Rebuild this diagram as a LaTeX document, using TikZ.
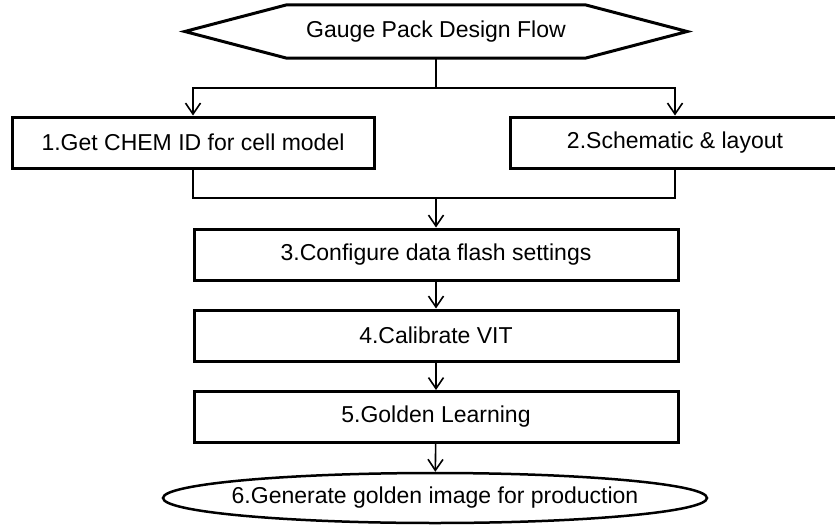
\documentclass[tikz,border=0pt]{standalone}
\usepackage{fontspec}
\setmainfont{Liberation Sans}
\usetikzlibrary{calc,arrows.meta,shapes.geometric}

\tikzset{
	stepbox/.style={draw, line width=3pt, rectangle, minimum height=51pt, inner sep=0pt, font=\fontsize{23}{28}\selectfont},
	link/.style={line width=1.6pt},
	linkarrow/.style={line width=1.6pt, -{Straight Barb[length=11pt, width=15pt, line width=1.6pt]}}
}

\begin{document}
\begin{tikzpicture}[x=1pt, y=-1pt]
			%%%%% START %%%%%
			\useasboundingbox (0, 0) rectangle (835, 527);
			
			% title hexagon
			\node[rectangle, minimum width=298pt, minimum height=53pt, inner sep=0pt, font=\fontsize{23}{28}\selectfont] (title) at (436, 31.5) {Gauge Pack Design Flow};
			\draw[line width=3pt, line join=miter] (title.north west) -- (title.north east) -- ($(title.east)+(102, 0)$) -- (title.south east) -- (title.south west) -- ($(title.west)+(-102, 0)$) -- cycle;
			
			\node[stepbox, minimum width=362pt] (chem) at (193, 142.5) {1.Get CHEM ID for cell model};
			\node[stepbox, minimum width=330pt] (layout) at (675, 142.5) {2.Schematic \& layout};
			
			\node[stepbox, minimum width=484pt] (flash) at (436, 254.5) {3.Configure data flash settings};
			\node[stepbox, minimum width=484pt] (vit) at (436, 335.5) {4.Calibrate VIT};
			\node[stepbox, minimum width=484pt] (golden) at (436, 417) {5.Golden Learning};
			
			\node[ellipse, draw, line width=2.5pt, minimum width=544pt, minimum height=50pt, inner xsep=-30pt, inner ysep=0pt, font=\fontsize{23}{28}\selectfont] (image) at (435, 498) {6.Generate golden image for production};
			
			% split and join
			\coordinate (split) at (436, 88);
			\coordinate (join) at (436, 198);
			
			\draw[line width=2pt] (title.south) -- (split);
			\draw[linkarrow] (split) -| (chem.north);
			\draw[linkarrow] (split) -| (layout.north);
			
			\draw[link] (chem.south) |- (join) -| (layout.south);
			\draw[linkarrow, line width=2pt] (join) -- (flash.north);
			
			\draw[linkarrow] (flash) -- (vit);
			\draw[linkarrow] (vit) -- (golden);
			\draw[linkarrow] (golden) -- (image);
			
			%%%%% END %%%%%
		\end{tikzpicture}
\end{document}
